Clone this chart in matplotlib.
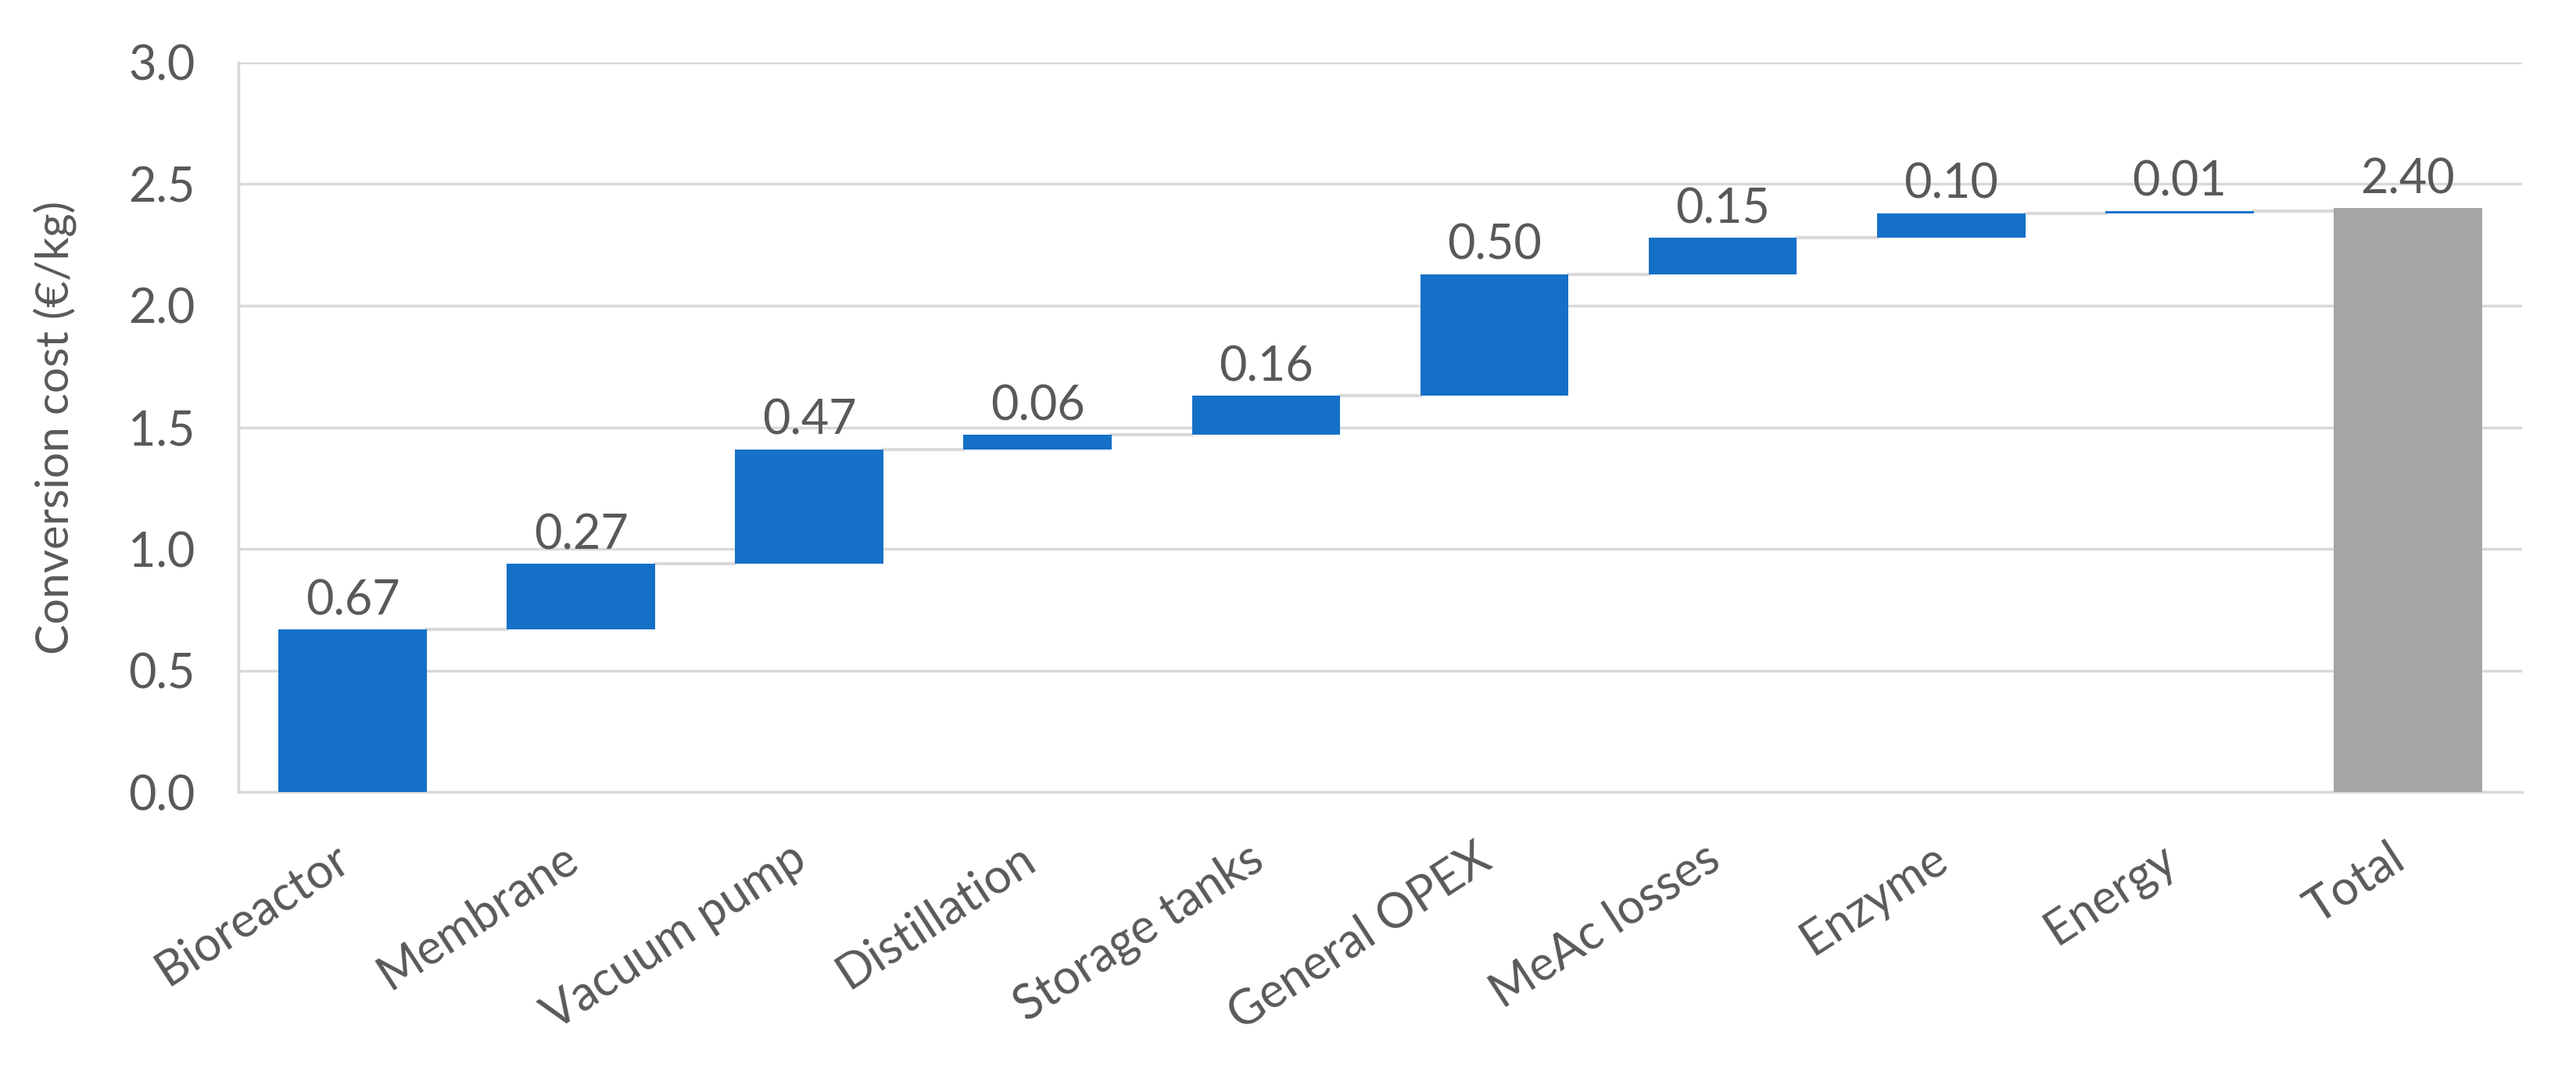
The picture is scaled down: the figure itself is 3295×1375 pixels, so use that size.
import numpy as np
import matplotlib.pyplot as plt
from matplotlib.transforms import ScaledTranslation

# waterfall data
categories = ['Bioreactor', 'Membrane', 'Vacuum pump', 'Distillation', 'Storage tanks',
              'General OPEX', 'MeAc losses', 'Enzyme', 'Energy', 'Total']
steps = [0.67, 0.27, 0.47, 0.06, 0.16, 0.50, 0.15, 0.10, 0.01]
total = 2.40
yticks = [0.0, 0.5, 1.0, 1.5, 2.0, 2.5, 3.0]

blue = '#1570C8'
grey = '#A5A5A5'
txt = '#595959'
line_col = '#D9D9D9'

plt.rcParams['font.family'] = ['Lato', 'DejaVu Sans']

fig = plt.figure(figsize=(32.95, 13.75), dpi=100)
ax = fig.add_axes([0.0926, 0.263, 0.8864, 0.679])

w = 0.65
tops = np.cumsum(steps)
bottoms = tops - np.array(steps)
x = np.arange(len(categories))

ax.bar(x[:-1], steps, bottom=bottoms, width=w, color=blue, zorder=3)
ax.bar(x[-1], total, width=w, color=grey, zorder=3)

# connectors
levels = list(tops) + [total]
for i in range(len(categories) - 1):
    ax.plot([x[i] + w / 2, x[i + 1] - w / 2], [levels[i], levels[i]],
            color=line_col, lw=3, zorder=2)

labels = steps + [total]
for xi, top, v in zip(x, levels, labels):
    ax.text(xi, top + 0.025, f'{v:.2f}', ha='center', va='bottom',
            fontsize=44, color=txt)

ax.set_ylim(0, 3.0)
ax.set_xlim(-0.5, len(categories) - 0.5)
ax.set_yticks(yticks)
ax.set_yticklabels([f'{t:.1f}' for t in yticks])
ax.yaxis.grid(True, color=line_col, lw=2.5, zorder=0)
ax.set_axisbelow(True)

ax.set_xticks(x)
ax.set_xticklabels(categories, rotation=33, ha='right', rotation_mode='anchor')
ax.tick_params(axis='both', length=0, labelsize=44, labelcolor=txt)
ax.tick_params(axis='x', pad=40)
ax.tick_params(axis='y', pad=40)
shift = ScaledTranslation(-0.25, 0, fig.dpi_scale_trans)
for lab in ax.get_xticklabels():
    lab.set_transform(lab.get_transform() + shift)

ax.set_ylabel('Conversion cost (€/kg)', fontsize=42, color=txt, labelpad=48)

for s in ['top', 'right']:
    ax.spines[s].set_visible(False)
for s in ['left', 'bottom']:
    ax.spines[s].set_color(line_col)
    ax.spines[s].set_linewidth(2.5)

fig.savefig('out.png', dpi=100, facecolor='white')
